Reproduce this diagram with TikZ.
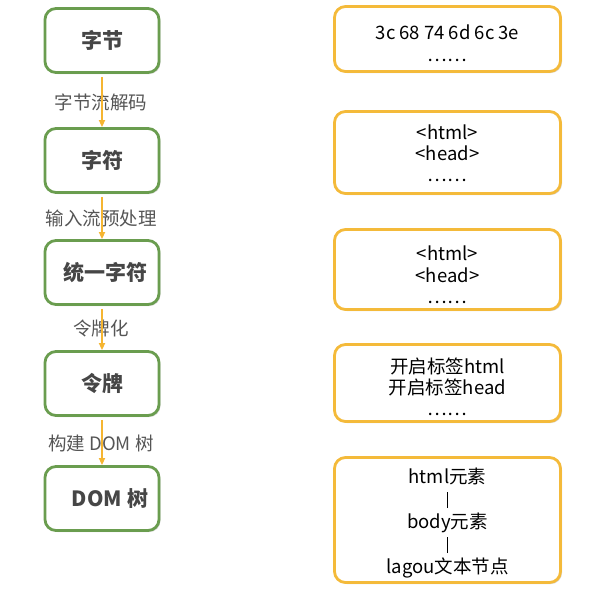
\documentclass[tikz,border=0pt]{standalone}
\usepackage{fontspec}
\setmainfont{Noto Sans CJK SC}
\usetikzlibrary{arrows.meta}
\usetikzlibrary{shadows}

\definecolor{stagegreen}{HTML}{6A9D4F}
\definecolor{resultorange}{HTML}{F4BA3A}
\definecolor{arroworange}{HTML}{F5B531}
\definecolor{stagetext}{HTML}{464646}
\definecolor{labelgray}{HTML}{555555}

\newcommand{\topstrut}[1]{\rule{0pt}{#1}}
\newcommand{\treebar}{\rule[-2pt]{0.8pt}{16pt}}

\begin{document}
\begin{tikzpicture}[
	x=1pt, y=-1pt,
	stage/.style={draw=stagegreen, line width=2.8pt, rounded corners=11pt, fill=white,
		minimum width=114pt, minimum height=64pt, text=stagetext,
		font=\fontsize{21}{25}\selectfont\bfseries,
		drop shadow={opacity=0.3, shadow xshift=1.5pt, shadow yshift=-1.5pt}},
	result/.style={draw=resultorange, line width=2.8pt, rounded corners=11pt, fill=white,
		minimum width=226pt, align=center, text=black,
		font=\fontsize{18.5}{21.5}\selectfont,
		drop shadow={opacity=0.3, shadow xshift=1.5pt, shadow yshift=-1.5pt}},
	flowlabel/.style={text=labelgray, font=\fontsize{18.5}{22}\selectfont},
	flow/.style={draw=arroworange, line width=1.6pt, shorten <=3pt,
		-{Triangle[length=7pt, width=6pt]}}
]
\useasboundingbox (0,0) rectangle (591,592);

% left column: stages
\node[stage] (bytes)  at (102,40.5)  {字节};
\node[stage] (chars)  at (102,160.5) {字符};
\node[stage] (uchars) at (102,272.5) {\hspace*{6pt}统一字符};
\node[stage] (tokens) at (102,383.5) {令牌};
\node[stage] (dom)    at (102,498.5) {\hspace*{16pt}DOM 树};

\node[flowlabel] (decode)   at (101,102) {字节流解码};
\node[flowlabel] (preproc)  at (101,218) {输入流预处理};
\node[flowlabel] (tokenize) at (101,328) {令牌化};
\node[flowlabel] (build)    at (101,443) {构建 DOM 树};

\draw[flow] (bytes) -- (chars);
\draw[flow] (chars) -- (uchars);
\draw[flow] (uchars) -- (tokens);
\draw[flow] (tokens) -- (dom);

% right column: data
\node[result, minimum height=65pt] (rbytes)  at (447.5,39)
	{\topstrut{23pt}3c 68 74 6d 6c 3e\\……};
\node[result, minimum height=82pt, font=\fontsize{18.5}{21}\selectfont] (rchars) at (447.5,152.5)
	{\topstrut{17pt}<html>\\<head>\\……};
\node[result, minimum height=80pt] (ruchars) at (447.5,269.5)
	{\topstrut{26pt}<html>\\<head>\\……};
\node[result, minimum height=77pt, font=\fontsize{18.5}{21}\selectfont] (rtokens) at (447.5,383)
	{\topstrut{24pt}开启标签html\\开启标签head\\……};
\node[result, minimum height=125pt, font=\fontsize{18.5}{22.5}\selectfont] (rdom) at (447.5,520)
	{\topstrut{22pt}html元素\\\treebar\\body元素\\\treebar\\lagou文本节点};
\end{tikzpicture}
\end{document}
